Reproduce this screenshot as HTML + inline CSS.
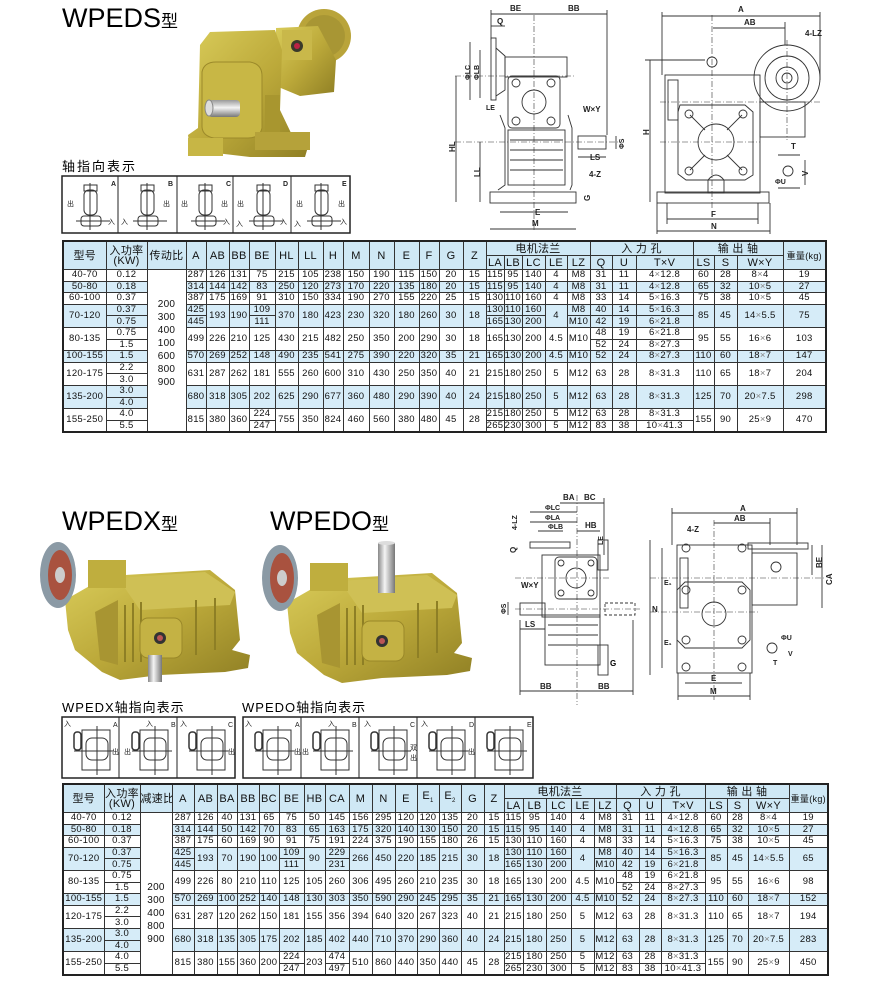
<!DOCTYPE html>
<html><head><meta charset="utf-8"><style>
body{margin:0;width:890px;height:989px;background:#fff;position:relative;overflow:hidden;font-family:"Liberation Sans","Noto Sans CJK SC",sans-serif}
svg{position:absolute;left:0;top:0}
table{position:absolute;border-collapse:collapse;table-layout:fixed;border:2px solid #222;font-family:"Liberation Sans","Noto Sans CJK SC",sans-serif;font-size:9.5px;color:#111;letter-spacing:0.3px}
td{border:1px solid #333;text-align:center;padding:0;line-height:10px;overflow:hidden;white-space:nowrap}
tr{height:11.6px}
tr.h td{background:#cfe8f5;font-size:11px;height:13px}
tr.b td{background:#d6ecf8}
td.w{background:#fff!important;line-height:13px;vertical-align:middle;font-size:10px}
.x{color:#888}
.t{position:absolute;color:#111;white-space:nowrap}
</style></head><body>

<svg width="890" height="989" viewBox="0 0 890 989" font-family="Liberation Sans, Noto Sans CJK SC, sans-serif">
<defs>
<linearGradient id="ol" x1="0" y1="0" x2="1" y2="1"><stop offset="0" stop-color="#d9cc5a"/><stop offset="0.5" stop-color="#bca93a"/><stop offset="1" stop-color="#8f7f24"/></linearGradient>
<linearGradient id="sv" x1="0" y1="0" x2="1" y2="0"><stop offset="0" stop-color="#888"/><stop offset="0.4" stop-color="#f4f4f4"/><stop offset="1" stop-color="#777"/></linearGradient>
<linearGradient id="svv" x1="0" y1="0" x2="0" y2="1"><stop offset="0" stop-color="#999"/><stop offset="0.45" stop-color="#f4f4f4"/><stop offset="1" stop-color="#777"/></linearGradient>
</defs>

<!-- titles -->
<text x="62" y="27" font-size="27">WPEDS<tspan font-size="17">型</tspan></text>
<text x="62" y="171" font-size="13" letter-spacing="2">轴指向表示</text>
<text x="62" y="530" font-size="27">WPEDX<tspan font-size="17">型</tspan></text>
<text x="270" y="530" font-size="27">WPEDO<tspan font-size="17">型</tspan></text>
<text x="62" y="712" font-size="13" letter-spacing="1">WPEDX轴指向表示</text>
<text x="242" y="712" font-size="13" letter-spacing="1">WPEDO轴指向表示</text>

<!-- WPEDS photo -->
<g>
<circle cx="324" cy="36" r="27" fill="#b9a43a"/><circle cx="324" cy="36" r="21" fill="#a89634"/>
<path d="M276 28 L318 26 L336 60 L334 92 L300 96 L276 86Z" fill="url(#ol)"/>
<rect x="282" y="30" width="30" height="30" fill="#c9b84a"/>
<circle cx="297" cy="46" r="6" fill="#3a3a2a"/><circle cx="297" cy="46" r="3" fill="#b24"/>
<path d="M200 45 L210 32 L275 30 L282 50 L280 110 L292 135 L310 140 L305 157 L250 157 L190 150 L188 135 L198 128Z" fill="url(#ol)"/>
<path d="M202 72 Q204 62 216 62 L250 62 Q262 64 262 76 L262 128 Q260 138 248 138 L214 138 Q202 136 202 126Z" fill="#c8b745" stroke="#9c8a2a"/>
<rect x="208" y="100" width="32" height="17" rx="4" fill="url(#svv)"/>
<ellipse cx="209" cy="108" rx="4" ry="8" fill="#ddd" stroke="#888"/>
<rect x="265" y="95" width="15" height="45" fill="#a8962f"/>
<rect x="188" y="138" width="35" height="18" fill="#c7b645"/><rect x="255" y="132" width="55" height="18" fill="#b5a23a"/>
</g>

<!-- WPEDS orientation boxes -->
<g stroke="#222" fill="none">
<rect x="62" y="176" width="288" height="57" stroke-width="1.5"/>
<line x1="118" y1="176" x2="118" y2="233"/><line x1="177" y1="176" x2="177" y2="233"/><line x1="233" y1="176" x2="233" y2="233"/><line x1="291" y1="176" x2="291" y2="233"/>
</g>
<g font-size="7" font-weight="bold" fill="#222">
<text x="111" y="186">A</text><text x="168" y="186">B</text><text x="226" y="186">C</text><text x="283" y="186">D</text><text x="342" y="186">E</text>
</g>
<g stroke="#333" fill="none" stroke-width="1">
<g id="ic"><rect x="84" y="185" width="13" height="6"/><rect x="84" y="190" width="13" height="25" rx="5"/><line x1="90" y1="183" x2="90" y2="230"/><rect x="81" y="216" width="20" height="10" rx="3"/><line x1="76" y1="221" x2="110" y2="221"/></g>
<use href="#ic" x="57"/><use href="#ic" x="115"/><use href="#ic" x="173"/><use href="#ic" x="231"/>
</g>
<g font-size="7" fill="#222">
<text x="67" y="206">出</text><text x="108" y="224">入</text>
<text x="163" y="206">出</text><text x="121" y="224">入</text>
<text x="181" y="206">出</text><text x="221" y="206">出</text><text x="223" y="224">入</text>
<text x="237" y="206">出</text><text x="236" y="226">入</text><text x="280" y="224">入</text>
<text x="296" y="206">出</text><text x="338" y="206">出</text><text x="294" y="226">入</text><text x="340" y="224">入</text>
</g>

<!-- top right drawings -->
<g stroke="#333" fill="none" stroke-width="0.9">
<!-- side view -->
<rect x="491" y="38" width="5" height="62"/>
<path d="M496 48 L505 56 L505 90 L496 96"/>
<rect x="505" y="57" width="62" height="20"/>
<rect x="508" y="76" width="52" height="52" rx="4"/>
<circle cx="534" cy="102" r="12"/>
<circle cx="516" cy="83" r="4"/><circle cx="551" cy="83" r="4"/><circle cx="516" cy="121" r="4"/><circle cx="551" cy="121" r="4"/>
<path d="M500 115 L505 128 L505 185 L498 190"/><path d="M568 115 L572 128 L572 185 L570 190"/>
<rect x="508" y="130" width="57" height="55"/>
<line x1="510" y1="140" x2="563" y2="140"/><line x1="510" y1="150" x2="563" y2="150"/><line x1="510" y1="160" x2="563" y2="160"/><line x1="510" y1="170" x2="563" y2="170"/>
<rect x="578" y="136" width="28" height="13"/>
<rect x="490" y="192" width="86" height="11"/>
<g stroke-dasharray="6 2 1 2" stroke-width="0.6"><line x1="534" y1="15" x2="534" y2="230"/><line x1="455" y1="142" x2="620" y2="142"/><line x1="455" y1="76" x2="575" y2="76"/></g>
<!-- dims -->
<line x1="491" y1="14" x2="607" y2="14"/><line x1="491" y1="10" x2="491" y2="40"/><line x1="607" y1="10" x2="607" y2="135"/>
<line x1="491" y1="26" x2="505" y2="26"/>
<line x1="470" y1="42" x2="470" y2="100"/><line x1="480" y1="50" x2="480" y2="98"/>
<line x1="456" y1="76" x2="456" y2="202"/><line x1="480" y1="142" x2="480" y2="202"/>
<line x1="500" y1="212" x2="568" y2="212"/><line x1="490" y1="229" x2="576" y2="229"/>
<line x1="578" y1="157" x2="606" y2="157"/><line x1="616" y1="136" x2="616" y2="149"/>
<!-- front view -->
<rect x="665" y="75" width="95" height="118"/>
<rect x="668" y="80" width="10" height="40"/>
<path d="M680 105 L745 105 L753 112 L753 175 L745 180 L686 180 L678 174 L678 112Z"/>
<circle cx="716" cy="142" r="18"/>
<line x1="690" y1="115" x2="705" y2="130"/><line x1="742" y1="115" x2="727" y2="130"/><line x1="690" y1="170" x2="705" y2="155"/><line x1="742" y1="170" x2="727" y2="155"/>
<circle cx="689" cy="114" r="4"/><circle cx="743" cy="114" r="4"/><circle cx="689" cy="171" r="4"/><circle cx="743" cy="171" r="4"/>
<circle cx="712" cy="62" r="5"/>
<circle cx="787" cy="78" r="33"/><circle cx="787" cy="78" r="22"/><circle cx="787" cy="78" r="11"/><circle cx="787" cy="78" r="5"/>
<rect x="760" y="102" width="45" height="35"/>
<path d="M708 180 Q716 170 724 180 L724 193 L708 193Z"/>
<rect x="657" y="192" width="112" height="11"/>
<circle cx="788" cy="171" r="5"/>
<g stroke-dasharray="6 2 1 2" stroke-width="0.6"><line x1="712" y1="15" x2="712" y2="210"/><line x1="660" y1="142" x2="760" y2="142"/><line x1="660" y1="102" x2="820" y2="102"/><line x1="787" y1="40" x2="787" y2="140"/></g>
<line x1="662" y1="16" x2="820" y2="16"/><line x1="662" y1="12" x2="662" y2="75"/><line x1="820" y1="12" x2="820" y2="80"/>
<line x1="713" y1="28" x2="785" y2="28"/><line x1="785" y1="22" x2="785" y2="45"/>
<line x1="650" y1="60" x2="650" y2="202"/><line x1="645" y1="60" x2="705" y2="60"/>
<line x1="667" y1="219" x2="758" y2="219"/><line x1="657" y1="231" x2="770" y2="231"/>
<line x1="667" y1="203" x2="667" y2="224"/><line x1="758" y1="203" x2="758" y2="224"/>
<line x1="657" y1="203" x2="657" y2="234"/><line x1="770" y1="203" x2="770" y2="234"/>
<line x1="778" y1="155" x2="800" y2="155"/><line x1="805" y1="160" x2="805" y2="185"/><line x1="778" y1="188" x2="800" y2="188"/>
</g>
<g font-size="8" font-weight="bold" fill="#222">
<text x="510" y="11">BE</text><text x="568" y="11">BB</text><text x="497" y="24">Q</text>
<text x="486" y="110" font-size="7">LE</text><text x="583" y="112">W×Y</text><text x="590" y="160">LS</text>
<text x="589" y="177">4-Z</text><text x="535" y="215">E</text><text x="532" y="226">M</text>
<text x="738" y="12">A</text><text x="744" y="25">AB</text><text x="805" y="36">4-LZ</text>
<text x="791" y="149">T</text><text x="711" y="217">F</text><text x="711" y="229">N</text>
<text x="775" y="184" font-size="7">ΦU</text>
<text transform="translate(455 152) rotate(-90)">HL</text>
<text transform="translate(480 177) rotate(-90)">LL</text>
<text transform="translate(470 80) rotate(-90)" font-size="7">ΦLC</text>
<text transform="translate(479 80) rotate(-90)" font-size="7">ΦLB</text>
<text transform="translate(624 149) rotate(-90)" font-size="7">ΦS</text>
<text transform="translate(590 201) rotate(-90)">G</text>
<text transform="translate(649 135) rotate(-90)">H</text>
<text transform="translate(808 176) rotate(-90)">V</text>
</g>

<!-- WPEDX photo -->
<g id="ph">
<path d="M65 600 L100 580 L125 575 L210 570 L235 590 L240 640 L232 650 L250 655 L248 668 L225 672 L160 675 L120 680 L102 672 L75 650 L68 630Z" fill="url(#ol)"/>
<path d="M118 578 L205 572 L235 592 L230 605 L140 610Z" fill="#cfc055"/>
<path d="M95 612 L118 600 L118 665 L100 660Z" fill="#a89532"/>
<g stroke="#8e7f25" stroke-width="2"><line x1="125" y1="605" x2="125" y2="662"/><line x1="133" y1="603" x2="133" y2="662"/><line x1="141" y1="602" x2="141" y2="662"/><line x1="196" y1="600" x2="196" y2="655"/><line x1="215" y1="598" x2="215" y2="650"/></g>
<rect x="140" y="618" width="42" height="40" rx="8" fill="#c4b244" stroke="#9a8829"/>
<circle cx="160" cy="638" r="6" fill="#333"/><circle cx="160" cy="638" r="3" fill="#b55"/>
<rect x="88" y="560" width="38" height="28" fill="#bfae3e"/>
<ellipse cx="58" cy="575" rx="18" ry="33" fill="#8b9aa5"/><ellipse cx="60" cy="575" rx="12" ry="25" fill="#a9523f"/><ellipse cx="60" cy="575" rx="5" ry="8" fill="#ccc"/>
</g>
<rect x="148" y="655" width="14" height="27" fill="url(#sv)"/>
<use href="#ph" x="222" y="3"/>
<rect x="378" y="543" width="17" height="50" fill="url(#sv)"/>
<ellipse cx="386.5" cy="543" rx="8.5" ry="2" fill="#ddd"/>

<!-- WPEDX / WPEDO orientation boxes -->
<g stroke="#222" fill="none">
<rect x="62" y="717" width="173" height="61" stroke-width="1.5"/>
<line x1="119" y1="717" x2="119" y2="778"/><line x1="177" y1="717" x2="177" y2="778"/>
<rect x="243" y="717" width="290" height="61" stroke-width="1.5"/>
<line x1="301" y1="717" x2="301" y2="778"/><line x1="359" y1="717" x2="359" y2="778"/><line x1="417" y1="717" x2="417" y2="778"/><line x1="475" y1="717" x2="475" y2="778"/>
</g>
<g stroke="#333" fill="none">
<g id="ic2"><rect x="82" y="730" width="28" height="40"/><rect x="86" y="738" width="22" height="22" rx="6"/><line x1="74" y1="751" x2="114" y2="751"/><line x1="97" y1="726" x2="97" y2="775"/><rect x="74" y="732" width="7" height="18" rx="3" stroke-width="1.5"/></g>
<use href="#ic2" x="58"/><use href="#ic2" x="115"/><use href="#ic2" x="181"/><use href="#ic2" x="239"/><use href="#ic2" x="297"/><use href="#ic2" x="355"/><use href="#ic2" x="413"/>
</g>
<g font-size="7" fill="#222">
<text x="113" y="727">A</text><text x="171" y="727">B</text><text x="228" y="727">C</text>
<text x="295" y="727">A</text><text x="352" y="727">B</text><text x="410" y="727">C</text><text x="469" y="727">D</text><text x="527" y="727">E</text>
<text x="64" y="726">入</text><text x="146" y="726">入</text><text x="180" y="726">入</text><text x="245" y="726">入</text><text x="328" y="726">入</text><text x="364" y="726">入</text><text x="421" y="726">入</text>
<text x="112" y="754">出</text><text x="124" y="754">出</text><text x="228" y="754">出</text><text x="294" y="754">出</text><text x="302" y="754">出</text><text x="410" y="750">双</text><text x="410" y="760">出</text><text x="468" y="754">出</text>
</g>

<!-- middle drawing -->
<g stroke="#333" fill="none" stroke-width="0.9">
<rect x="530" y="542" width="40" height="6"/>
<rect x="542" y="555" width="58" height="62"/>
<rect x="555" y="557" width="42" height="42" rx="4"/>
<circle cx="576" cy="578" r="10"/>
<circle cx="561" cy="563" r="3"/><circle cx="591" cy="563" r="3"/><circle cx="561" cy="593" r="3"/><circle cx="591" cy="593" r="3"/>
<rect x="520" y="603" width="25" height="12"/>
<rect x="545" y="615" width="55" height="50"/>
<line x1="548" y1="625" x2="598" y2="625"/><line x1="548" y1="635" x2="598" y2="635"/><line x1="548" y1="645" x2="598" y2="645"/>
<rect x="598" y="540" width="10" height="30"/><rect x="598" y="645" width="10" height="30"/>
<rect x="605" y="603" width="30" height="12" stroke-dasharray="3 2"/>
<g stroke-dasharray="6 2 1 2" stroke-width="0.6"><line x1="577" y1="495" x2="577" y2="705"/><line x1="515" y1="609" x2="640" y2="609"/><line x1="515" y1="578" x2="610" y2="578"/></g>
<line x1="560" y1="503" x2="604" y2="503"/><line x1="604" y1="498" x2="604" y2="555"/>
<line x1="530" y1="512" x2="577" y2="512"/><line x1="530" y1="522" x2="577" y2="522"/><line x1="538" y1="531" x2="563" y2="531"/><line x1="577" y1="531" x2="600" y2="531"/>
<line x1="520" y1="691" x2="633" y2="691"/><line x1="520" y1="620" x2="520" y2="695"/><line x1="633" y1="620" x2="633" y2="695"/>
<line x1="520" y1="629" x2="545" y2="629"/><line x1="508" y1="602" x2="508" y2="615"/>
<!-- right view -->
<rect x="677" y="545" width="75" height="128"/>
<rect x="680" y="558" width="8" height="50"/>
<path d="M685 582 L742 582 L750 590 L750 640 L742 648 L685 648 L677 640 L677 590Z"/>
<circle cx="714" cy="614" r="12"/>
<circle cx="686" cy="590" r="4"/><circle cx="742" cy="590" r="4"/><circle cx="686" cy="640" r="4"/><circle cx="742" cy="640" r="4"/>
<circle cx="686" cy="548" r="4"/><circle cx="742" cy="548" r="4"/><circle cx="686" cy="667" r="4"/><circle cx="742" cy="667" r="4"/>
<rect x="752" y="553" width="45" height="52"/><circle cx="776" cy="567" r="5"/>
<rect x="748" y="543" width="60" height="6"/>
<circle cx="772" cy="648" r="5"/>
<g stroke-dasharray="6 2 1 2" stroke-width="0.6"><line x1="714" y1="520" x2="714" y2="700"/><line x1="650" y1="578" x2="825" y2="578"/><line x1="650" y1="612" x2="760" y2="612"/></g>
<line x1="672" y1="513" x2="797" y2="513"/><line x1="672" y1="508" x2="672" y2="545"/><line x1="797" y1="508" x2="797" y2="545"/>
<line x1="714" y1="523" x2="770" y2="523"/><line x1="770" y1="518" x2="770" y2="545"/>
<line x1="650" y1="540" x2="650" y2="675"/><line x1="662" y1="548" x2="662" y2="612"/><line x1="662" y1="612" x2="662" y2="668"/>
<line x1="812" y1="545" x2="812" y2="575"/><line x1="822" y1="545" x2="822" y2="608"/>
<line x1="685" y1="683" x2="742" y2="683"/><line x1="678" y1="696" x2="750" y2="696"/>
<line x1="678" y1="673" x2="678" y2="700"/><line x1="750" y1="673" x2="750" y2="700"/>
</g>
<g font-size="8" font-weight="bold" fill="#222">
<text x="563" y="500">BA</text><text x="584" y="500">BC</text><text x="545" y="510" font-size="7">ΦLC</text><text x="545" y="520" font-size="7">ΦLA</text><text x="548" y="529" font-size="7">ΦLB</text>
<text x="585" y="528">HB</text><text x="521" y="588">W×Y</text><text x="525" y="627">LS</text><text x="540" y="689">BB</text><text x="598" y="689">BB</text>
<text x="740" y="511">A</text><text x="734" y="521">AB</text><text x="687" y="532">4-Z</text><text x="711" y="681">E</text><text x="710" y="694">M</text>
<text x="652" y="612">N</text><text x="664" y="585" font-size="7">E₁</text><text x="664" y="645" font-size="7">E₁</text>
<text x="781" y="640" font-size="7">ΦU</text><text x="773" y="665" font-size="7">T</text><text x="788" y="656" font-size="7">V</text>
<text transform="translate(822 568) rotate(-90)">BE</text><text transform="translate(832 585) rotate(-90)">CA</text>
<text transform="translate(517 530) rotate(-90)" font-size="7">4-LZ</text>
<text transform="translate(516 553) rotate(-90)">Q</text>
<text transform="translate(603 545) rotate(-90)" font-size="7">LE</text>
<text transform="translate(506 614) rotate(-90)" font-size="7">ΦS</text>
</g>
<text x="610" y="666" font-size="8" font-weight="bold">G</text>
</svg>

<!-- TABLE 1 -->
<table style="left:62px;top:240px;width:765px">
<colgroup><col style="width:43px"><col style="width:41px"><col style="width:39px"><col style="width:20px"><col style="width:23px"><col style="width:20px"><col style="width:26px"><col style="width:23px"><col style="width:25px"><col style="width:20px"><col style="width:26px"><col style="width:25px"><col style="width:25px"><col style="width:20px"><col style="width:24px"><col style="width:23px"><col style="width:18px"><col style="width:18px"><col style="width:23px"><col style="width:22px"><col style="width:23px"><col style="width:22px"><col style="width:24px"><col style="width:57px"><col style="width:21px"><col style="width:23px"><col style="width:46px"><col style="width:43px"></colgroup>
<tr class="h"><td rowspan="2">型号</td><td rowspan="2" style="line-height:10px">入功率<br>(KW)</td><td rowspan="2">传动比</td><td rowspan="2">A</td><td rowspan="2">AB</td><td rowspan="2">BB</td><td rowspan="2">BE</td><td rowspan="2">HL</td><td rowspan="2">LL</td><td rowspan="2">H</td><td rowspan="2">M</td><td rowspan="2">N</td><td rowspan="2">E</td><td rowspan="2">F</td><td rowspan="2">G</td><td rowspan="2">Z</td><td colspan="5">电机法兰</td><td colspan="3">入 力 孔</td><td colspan="3">输 出 轴</td><td rowspan="2" style="font-size:9px">重量(kg)</td></tr>
<tr class="h"><td>LA</td><td>LB</td><td>LC</td><td>LE</td><td>LZ</td><td>Q</td><td>U</td><td>T×V</td><td>LS</td><td>S</td><td>W×Y</td></tr>
<tr><td>40-70</td><td>0.12</td><td rowspan="14" class="w" style="padding-bottom:14px">200<br>300<br>400<br>100<br>600<br>800<br>900</td><td>287</td><td>126</td><td>131</td><td>75</td><td>215</td><td>105</td><td>238</td><td>150</td><td>190</td><td>115</td><td>150</td><td>20</td><td>15</td><td>115</td><td>95</td><td>140</td><td>4</td><td>M8</td><td>31</td><td>11</td><td>4<span class="x">×</span>12.8</td><td>60</td><td>28</td><td>8<span class="x">×</span>4</td><td>19</td></tr>
<tr class="b"><td>50-80</td><td>0.18</td><td>314</td><td>144</td><td>142</td><td>83</td><td>250</td><td>120</td><td>273</td><td>170</td><td>220</td><td>135</td><td>180</td><td>20</td><td>15</td><td>115</td><td>95</td><td>140</td><td>4</td><td>M8</td><td>31</td><td>11</td><td>4<span class="x">×</span>12.8</td><td>65</td><td>32</td><td>10<span class="x">×</span>5</td><td>27</td></tr>
<tr><td>60-100</td><td>0.37</td><td>387</td><td>175</td><td>169</td><td>91</td><td>310</td><td>150</td><td>334</td><td>190</td><td>270</td><td>155</td><td>220</td><td>25</td><td>15</td><td>130</td><td>110</td><td>160</td><td>4</td><td>M8</td><td>33</td><td>14</td><td>5<span class="x">×</span>16.3</td><td>75</td><td>38</td><td>10<span class="x">×</span>5</td><td>45</td></tr>
<tr class="b"><td rowspan="2">70-120</td><td>0.37</td><td>425</td><td rowspan="2">193</td><td rowspan="2">190</td><td>109</td><td rowspan="2">370</td><td rowspan="2">180</td><td rowspan="2">423</td><td rowspan="2">230</td><td rowspan="2">320</td><td rowspan="2">180</td><td rowspan="2">260</td><td rowspan="2">30</td><td rowspan="2">18</td><td>130</td><td>110</td><td>160</td><td rowspan="2">4</td><td>M8</td><td>40</td><td>14</td><td>5<span class="x">×</span>16.3</td><td rowspan="2">85</td><td rowspan="2">45</td><td rowspan="2">14<span class="x">×</span>5.5</td><td rowspan="2">75</td></tr>
<tr class="b"><td>0.75</td><td>445</td><td>111</td><td>165</td><td>130</td><td>200</td><td>M10</td><td>42</td><td>19</td><td>6<span class="x">×</span>21.8</td></tr>
<tr><td rowspan="2">80-135</td><td>0.75</td><td rowspan="2">499</td><td rowspan="2">226</td><td rowspan="2">210</td><td rowspan="2">125</td><td rowspan="2">430</td><td rowspan="2">215</td><td rowspan="2">482</td><td rowspan="2">250</td><td rowspan="2">350</td><td rowspan="2">200</td><td rowspan="2">290</td><td rowspan="2">30</td><td rowspan="2">18</td><td rowspan="2">165</td><td rowspan="2">130</td><td rowspan="2">200</td><td rowspan="2">4.5</td><td rowspan="2">M10</td><td>48</td><td>19</td><td>6<span class="x">×</span>21.8</td><td rowspan="2">95</td><td rowspan="2">55</td><td rowspan="2">16<span class="x">×</span>6</td><td rowspan="2">103</td></tr>
<tr><td>1.5</td><td>52</td><td>24</td><td>8<span class="x">×</span>27.3</td></tr>
<tr class="b"><td>100-155</td><td>1.5</td><td>570</td><td>269</td><td>252</td><td>148</td><td>490</td><td>235</td><td>541</td><td>275</td><td>390</td><td>220</td><td>320</td><td>35</td><td>21</td><td>165</td><td>130</td><td>200</td><td>4.5</td><td>M10</td><td>52</td><td>24</td><td>8<span class="x">×</span>27.3</td><td>110</td><td>60</td><td>18<span class="x">×</span>7</td><td>147</td></tr>
<tr><td rowspan="2">120-175</td><td>2.2</td><td rowspan="2">631</td><td rowspan="2">287</td><td rowspan="2">262</td><td rowspan="2">181</td><td rowspan="2">555</td><td rowspan="2">260</td><td rowspan="2">600</td><td rowspan="2">310</td><td rowspan="2">430</td><td rowspan="2">250</td><td rowspan="2">350</td><td rowspan="2">40</td><td rowspan="2">21</td><td rowspan="2">215</td><td rowspan="2">180</td><td rowspan="2">250</td><td rowspan="2">5</td><td rowspan="2">M12</td><td rowspan="2">63</td><td rowspan="2">28</td><td rowspan="2">8<span class="x">×</span>31.3</td><td rowspan="2">110</td><td rowspan="2">65</td><td rowspan="2">18<span class="x">×</span>7</td><td rowspan="2">204</td></tr>
<tr><td>3.0</td></tr>
<tr class="b"><td rowspan="2">135-200</td><td>3.0</td><td rowspan="2">680</td><td rowspan="2">318</td><td rowspan="2">305</td><td rowspan="2">202</td><td rowspan="2">625</td><td rowspan="2">290</td><td rowspan="2">677</td><td rowspan="2">360</td><td rowspan="2">480</td><td rowspan="2">290</td><td rowspan="2">390</td><td rowspan="2">40</td><td rowspan="2">24</td><td rowspan="2">215</td><td rowspan="2">180</td><td rowspan="2">250</td><td rowspan="2">5</td><td rowspan="2">M12</td><td rowspan="2">63</td><td rowspan="2">28</td><td rowspan="2">8<span class="x">×</span>31.3</td><td rowspan="2">125</td><td rowspan="2">70</td><td rowspan="2">20<span class="x">×</span>7.5</td><td rowspan="2">298</td></tr>
<tr class="b"><td>4.0</td></tr>
<tr><td rowspan="2">155-250</td><td>4.0</td><td rowspan="2">815</td><td rowspan="2">380</td><td rowspan="2">360</td><td>224</td><td rowspan="2">755</td><td rowspan="2">350</td><td rowspan="2">824</td><td rowspan="2">460</td><td rowspan="2">560</td><td rowspan="2">380</td><td rowspan="2">480</td><td rowspan="2">45</td><td rowspan="2">28</td><td>215</td><td>180</td><td>250</td><td>5</td><td>M12</td><td>63</td><td>28</td><td>8<span class="x">×</span>31.3</td><td rowspan="2">155</td><td rowspan="2">90</td><td rowspan="2">25<span class="x">×</span>9</td><td rowspan="2">470</td></tr>
<tr><td>5.5</td><td>247</td><td>265</td><td>230</td><td>300</td><td>5</td><td>M12</td><td>83</td><td>38</td><td>10<span class="x">×</span>41.3</td></tr>
</table>

<!-- TABLE 2 -->
<table style="left:62px;top:783px;width:765px">
<colgroup><col style="width:41px"><col style="width:36px"><col style="width:32px"><col style="width:22px"><col style="width:23px"><col style="width:20px"><col style="width:22px"><col style="width:20px"><col style="width:25px"><col style="width:21px"><col style="width:24px"><col style="width:23px"><col style="width:23px"><col style="width:22px"><col style="width:22px"><col style="width:22px"><col style="width:23px"><col style="width:20px"><col style="width:19px"><col style="width:23px"><col style="width:25px"><col style="width:23px"><col style="width:22px"><col style="width:23px"><col style="width:22px"><col style="width:44px"><col style="width:22px"><col style="width:21px"><col style="width:41px"><col style="width:39px"></colgroup>
<tr class="h"><td rowspan="2">型号</td><td rowspan="2" style="line-height:10px">入功率<br>(KW)</td><td rowspan="2">减速比</td><td rowspan="2">A</td><td rowspan="2">AB</td><td rowspan="2">BA</td><td rowspan="2">BB</td><td rowspan="2">BC</td><td rowspan="2">BE</td><td rowspan="2">HB</td><td rowspan="2">CA</td><td rowspan="2">M</td><td rowspan="2">N</td><td rowspan="2">E</td><td rowspan="2">E<sub style="font-size:6px">1</sub></td><td rowspan="2">E<sub style="font-size:6px">2</sub></td><td rowspan="2">G</td><td rowspan="2">Z</td><td colspan="5">电机法兰</td><td colspan="3">入 力 孔</td><td colspan="3">输 出 轴</td><td rowspan="2" style="font-size:9px">重量(kg)</td></tr>
<tr class="h"><td>LA</td><td>LB</td><td>LC</td><td>LE</td><td>LZ</td><td>Q</td><td>U</td><td>T×V</td><td>LS</td><td>S</td><td>W×Y</td></tr>
<tr><td>40-70</td><td>0.12</td><td rowspan="14" class="w" style="padding-top:40px">200<br>300<br>400<br>800<br>900</td><td>287</td><td>126</td><td>40</td><td>131</td><td>65</td><td>75</td><td>50</td><td>145</td><td>156</td><td>295</td><td>120</td><td>120</td><td>135</td><td>20</td><td>15</td><td>115</td><td>95</td><td>140</td><td>4</td><td>M8</td><td>31</td><td>11</td><td>4<span class="x">×</span>12.8</td><td>60</td><td>28</td><td>8<span class="x">×</span>4</td><td>19</td></tr>
<tr class="b"><td>50-80</td><td>0.18</td><td>314</td><td>144</td><td>50</td><td>142</td><td>70</td><td>83</td><td>65</td><td>163</td><td>175</td><td>320</td><td>140</td><td>130</td><td>150</td><td>20</td><td>15</td><td>115</td><td>95</td><td>140</td><td>4</td><td>M8</td><td>31</td><td>11</td><td>4<span class="x">×</span>12.8</td><td>65</td><td>32</td><td>10<span class="x">×</span>5</td><td>27</td></tr>
<tr><td>60-100</td><td>0.37</td><td>387</td><td>175</td><td>60</td><td>169</td><td>90</td><td>91</td><td>75</td><td>191</td><td>224</td><td>375</td><td>190</td><td>155</td><td>180</td><td>26</td><td>15</td><td>130</td><td>110</td><td>160</td><td>4</td><td>M8</td><td>33</td><td>14</td><td>5<span class="x">×</span>16.3</td><td>75</td><td>38</td><td>10<span class="x">×</span>5</td><td>45</td></tr>
<tr class="b"><td rowspan="2">70-120</td><td>0.37</td><td>425</td><td rowspan="2">193</td><td rowspan="2">70</td><td rowspan="2">190</td><td rowspan="2">100</td><td>109</td><td rowspan="2">90</td><td>229</td><td rowspan="2">266</td><td rowspan="2">450</td><td rowspan="2">220</td><td rowspan="2">185</td><td rowspan="2">215</td><td rowspan="2">30</td><td rowspan="2">18</td><td>130</td><td>110</td><td>160</td><td rowspan="2">4</td><td>M8</td><td>40</td><td>14</td><td>5<span class="x">×</span>16.3</td><td rowspan="2">85</td><td rowspan="2">45</td><td rowspan="2">14<span class="x">×</span>5.5</td><td rowspan="2">65</td></tr>
<tr class="b"><td>0.75</td><td>445</td><td>111</td><td>231</td><td>165</td><td>130</td><td>200</td><td>M10</td><td>42</td><td>19</td><td>6<span class="x">×</span>21.8</td></tr>
<tr><td rowspan="2">80-135</td><td>0.75</td><td rowspan="2">499</td><td rowspan="2">226</td><td rowspan="2">80</td><td rowspan="2">210</td><td rowspan="2">110</td><td rowspan="2">125</td><td rowspan="2">105</td><td rowspan="2">260</td><td rowspan="2">306</td><td rowspan="2">495</td><td rowspan="2">260</td><td rowspan="2">210</td><td rowspan="2">235</td><td rowspan="2">30</td><td rowspan="2">18</td><td rowspan="2">165</td><td rowspan="2">130</td><td rowspan="2">200</td><td rowspan="2">4.5</td><td rowspan="2">M10</td><td>48</td><td>19</td><td>6<span class="x">×</span>21.8</td><td rowspan="2">95</td><td rowspan="2">55</td><td rowspan="2">16<span class="x">×</span>6</td><td rowspan="2">98</td></tr>
<tr><td>1.5</td><td>52</td><td>24</td><td>8<span class="x">×</span>27.3</td></tr>
<tr class="b"><td>100-155</td><td>1.5</td><td>570</td><td>269</td><td>100</td><td>252</td><td>140</td><td>148</td><td>130</td><td>303</td><td>350</td><td>590</td><td>290</td><td>245</td><td>295</td><td>35</td><td>21</td><td>165</td><td>130</td><td>200</td><td>4.5</td><td>M10</td><td>52</td><td>24</td><td>8<span class="x">×</span>27.3</td><td>110</td><td>60</td><td>18<span class="x">×</span>7</td><td>152</td></tr>
<tr><td rowspan="2">120-175</td><td>2.2</td><td rowspan="2">631</td><td rowspan="2">287</td><td rowspan="2">120</td><td rowspan="2">262</td><td rowspan="2">150</td><td rowspan="2">181</td><td rowspan="2">155</td><td rowspan="2">356</td><td rowspan="2">394</td><td rowspan="2">640</td><td rowspan="2">320</td><td rowspan="2">267</td><td rowspan="2">323</td><td rowspan="2">40</td><td rowspan="2">21</td><td rowspan="2">215</td><td rowspan="2">180</td><td rowspan="2">250</td><td rowspan="2">5</td><td rowspan="2">M12</td><td rowspan="2">63</td><td rowspan="2">28</td><td rowspan="2">8<span class="x">×</span>31.3</td><td rowspan="2">110</td><td rowspan="2">65</td><td rowspan="2">18<span class="x">×</span>7</td><td rowspan="2">194</td></tr>
<tr><td>3.0</td></tr>
<tr class="b"><td rowspan="2">135-200</td><td>3.0</td><td rowspan="2">680</td><td rowspan="2">318</td><td rowspan="2">135</td><td rowspan="2">305</td><td rowspan="2">175</td><td rowspan="2">202</td><td rowspan="2">185</td><td rowspan="2">402</td><td rowspan="2">440</td><td rowspan="2">710</td><td rowspan="2">370</td><td rowspan="2">290</td><td rowspan="2">360</td><td rowspan="2">40</td><td rowspan="2">24</td><td rowspan="2">215</td><td rowspan="2">180</td><td rowspan="2">250</td><td rowspan="2">5</td><td rowspan="2">M12</td><td rowspan="2">63</td><td rowspan="2">28</td><td rowspan="2">8<span class="x">×</span>31.3</td><td rowspan="2">125</td><td rowspan="2">70</td><td rowspan="2">20<span class="x">×</span>7.5</td><td rowspan="2">283</td></tr>
<tr class="b"><td>4.0</td></tr>
<tr><td rowspan="2">155-250</td><td>4.0</td><td rowspan="2">815</td><td rowspan="2">380</td><td rowspan="2">155</td><td rowspan="2">360</td><td rowspan="2">200</td><td>224</td><td rowspan="2">203</td><td>474</td><td rowspan="2">510</td><td rowspan="2">860</td><td rowspan="2">440</td><td rowspan="2">350</td><td rowspan="2">440</td><td rowspan="2">45</td><td rowspan="2">28</td><td>215</td><td>180</td><td>250</td><td>5</td><td>M12</td><td>63</td><td>28</td><td>8<span class="x">×</span>31.3</td><td rowspan="2">155</td><td rowspan="2">90</td><td rowspan="2">25<span class="x">×</span>9</td><td rowspan="2">450</td></tr>
<tr><td>5.5</td><td>247</td><td>497</td><td>265</td><td>230</td><td>300</td><td>5</td><td>M12</td><td>83</td><td>38</td><td>10<span class="x">×</span>41.3</td></tr>
</table>
</body></html>
